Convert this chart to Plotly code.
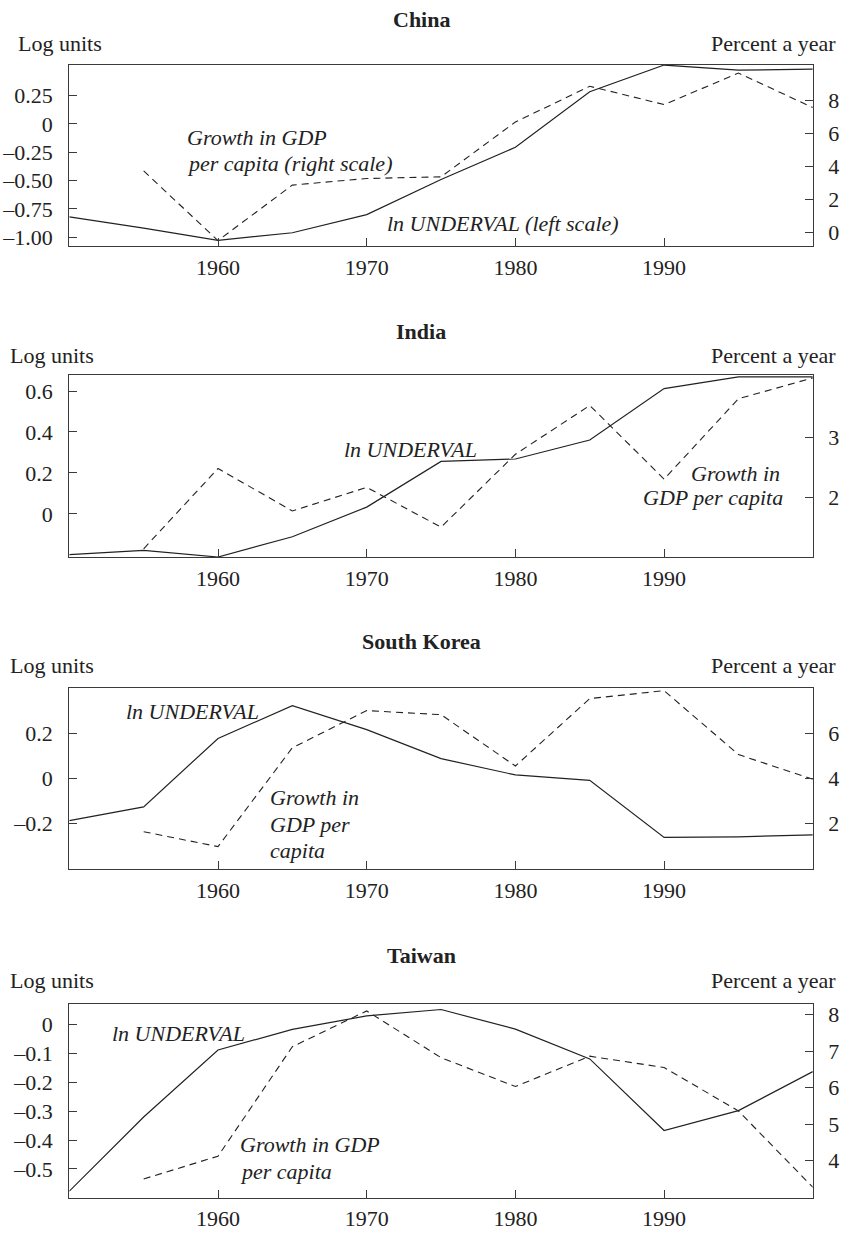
import plotly.graph_objects as go

W, H = 842, 1234
FONT = "Liberation Serif"

years = [1950, 1955, 1960, 1965, 1970, 1975, 1980, 1985, 1990, 1995, 2000]
xtick_vals = [1960, 1970, 1980, 1990]
xtick_text = ["1960", "1970", "1980", "1990"]

# China
china_underval = [-0.82, -0.92, -1.027, -0.96, -0.80, -0.49, -0.206, 0.284, 0.52, 0.475, 0.484]
china_growth = [None, 3.73, -0.5, 2.87, 3.27, 3.37, 6.70, 8.87, 7.76, 9.67, 7.58]
china_left_ticks = [0.25, 0, -0.25, -0.5, -0.75, -1.0]
china_left_text = ["0.25", "0", "\u20130.25", "\u20130.50", "\u20130.75", "\u20131.00"]
china_right_ticks = [0, 2, 4, 6, 8]

# India
india_underval = [-0.199, -0.178, -0.211, -0.112, 0.033, 0.256, 0.268, 0.361, 0.612, 0.669, 0.669]
india_growth = [None, 1.147, 2.478, 1.774, 2.165, 1.505, 2.714, 3.523, 2.302, 3.634, 3.98]
india_left_ticks = [0, 0.2, 0.4, 0.6]
india_left_text = ["0", "0.2", "0.4", "0.6"]
india_right_ticks = [2, 3]

# South Korea
korea_underval = [-0.187, -0.126, 0.176, 0.321, 0.215, 0.087, 0.015, -0.009, -0.261, -0.258, -0.25]
korea_growth = [None, 1.644, 0.985, 5.35, 6.99, 6.81, 4.545, 7.52, 7.87, 5.05, 3.96]
korea_left_ticks = [-0.2, 0, 0.2]
korea_left_text = ["\u20130.2", "0", "0.2"]
korea_right_ticks = [2, 4, 6]

# Taiwan
taiwan_underval = [-0.577, -0.32, -0.088, -0.017, 0.030, 0.052, -0.016, -0.119, -0.367, -0.298, -0.163]
taiwan_growth = [None, 3.498, 4.12, 7.12, 8.10, 6.82, 6.03, 6.86, 6.55, 5.36, 3.27]
taiwan_left_ticks = [0, -0.1, -0.2, -0.3, -0.4, -0.5]
taiwan_left_text = ["0", "\u20130.1", "\u20130.2", "\u20130.3", "\u20130.4", "\u20130.5"]
taiwan_right_ticks = [4, 5, 6, 7, 8]

panels = [
    dict(title="China", under=china_underval, growth=china_growth,
         lt=china_left_ticks, ltt=china_left_text, rt=china_right_ticks,
         lr=[-1.077, 0.52], rr=[-0.83, 10.16], top=64.3, bot=246, title_y=18.3, head_y=42.7, head_x=16,
         notes=[("<i>Growth in GDP</i>", 185, 136.7, "left"),
                ("<i>per capita (right scale)</i>", 185, 163.3, "left"),
                ("<i>ln UNDERVAL (left scale)</i>", 385, 223.3, "left")]),
    dict(title="India", under=india_underval, growth=india_growth,
         lt=india_left_ticks, ltt=india_left_text, rt=india_right_ticks,
         lr=[-0.211, 0.676], rr=[1.01, 4.02], top=376, bot=558.3, title_y=331.7, head_y=356, head_x=8,
         notes=[("<i>ln UNDERVAL</i>", 342, 450, "left"),
                ("<i>Growth in</i>", 782, 474, "right"),
                ("<i>GDP per capita</i>", 785, 499, "right")]),
    dict(title="South Korea", under=korea_underval, growth=korea_growth,
         lt=korea_left_ticks, ltt=korea_left_text, rt=korea_right_ticks,
         lr=[-0.401, 0.401], rr=[-0.01, 8.01], top=689.3, bot=871.7, title_y=643.3, head_y=667.7, head_x=8,
         notes=[("<i>ln UNDERVAL</i>", 124, 713.3, "left"),
                ("<i>Growth in</i>", 268, 800, "left"),
                ("<i>GDP per</i>", 268, 826.7, "left"),
                ("<i>capita</i>", 268, 853.3, "left")]),
    dict(title="Taiwan", under=taiwan_underval, growth=taiwan_growth,
         lt=taiwan_left_ticks, ltt=taiwan_left_text, rt=taiwan_right_ticks,
         lr=[-0.6, 0.0724], rr=[2.98, 8.30], top=1006.7, bot=1201.7, title_y=958.3, head_y=983.3, head_x=8,
         notes=[("<i>ln UNDERVAL</i>", 110, 1036.7, "left"),
                ("<i>Growth in GDP</i>", 238, 1148.3, "left"),
                ("<i>per capita</i>", 238, 1175, "left")]),
]

XL, XR = 69.3, 812.8


def px(x):
    return x / W


def py(y):
    return 1 - y / H


fig = go.Figure()
layout = dict(
    width=W, height=H, autosize=False,
    margin=dict(l=0, r=0, t=0, b=0),
    paper_bgcolor="white", plot_bgcolor="white",
    showlegend=False,
    font=dict(family=FONT, size=22, color="#222"),
    annotations=[],
)

LINEC = "#3a3a3a"
TF = dict(family=FONT, size=22, color="#222")
for i, p in enumerate(panels, start=1):
    xa = "x" if i == 1 else f"x{i}"
    yl_n = 2 * i - 1
    yr_n = 2 * i
    yl = "y" if yl_n == 1 else f"y{yl_n}"
    yr = f"y{yr_n}"
    xkey = "xaxis" if i == 1 else f"xaxis{i}"
    ylkey = "yaxis" if yl_n == 1 else f"yaxis{yl_n}"
    yrkey = f"yaxis{yr_n}"
    ydom = [py(p["bot"]), py(p["top"])]

    layout[xkey] = dict(domain=[px(XL), px(XR)], anchor=yl, range=[1950, 2000],
                        tickvals=xtick_vals, ticktext=xtick_text, ticks="inside", ticklen=8,
                        tickcolor=LINEC, showline=True, linecolor=LINEC, linewidth=1.3,
                        mirror=True, showgrid=False, zeroline=False,
                        ticklabelstandoff=1, tickfont=TF)
    layout[ylkey] = dict(domain=ydom, anchor=xa, range=p["lr"], tickvals=p["lt"], ticktext=p["ltt"],
                         ticks="inside", ticklen=8, tickcolor=LINEC, showline=True, linecolor=LINEC,
                         linewidth=1.3, showgrid=False, zeroline=False, side="left",
                         ticklabelstandoff=11, tickfont=TF)
    layout[yrkey] = dict(domain=ydom, anchor=xa, overlaying=yl, side="right", range=p["rr"],
                         tickvals=p["rt"], ticks="inside", ticklen=8, tickcolor=LINEC,
                         showline=True, linecolor=LINEC, linewidth=1.3, showgrid=False,
                         zeroline=False, ticklabelstandoff=10, tickfont=TF)

    fig.add_trace(go.Scatter(x=years, y=p["under"], mode="lines", xaxis=xa, yaxis=yl,
                             line=dict(color="#222", width=1.2), cliponaxis=True))
    fig.add_trace(go.Scatter(x=years, y=p["growth"], mode="lines", xaxis=xa, yaxis=yr,
                             line=dict(color="#222", width=1.1, dash="7px,5px"), cliponaxis=True))

    layout["annotations"].append(dict(text=f"<b>{p['title']}</b>", xref="paper", yref="paper",
                                      x=px(421), y=py(p["title_y"]), xanchor="center", yanchor="middle",
                                      showarrow=False, font=TF))
    layout["annotations"].append(dict(text="Log units", xref="paper", yref="paper",
                                      x=px(p["head_x"]), y=py(p["head_y"]), xanchor="left", yanchor="middle",
                                      showarrow=False, font=TF))
    layout["annotations"].append(dict(text="Percent a year", xref="paper", yref="paper",
                                      x=px(838), y=py(p["head_y"]), xanchor="right", yanchor="middle",
                                      showarrow=False, font=TF))
    for txt, ax, ay, anc in p["notes"]:
        layout["annotations"].append(dict(text=txt, xref="paper", yref="paper",
                                          x=px(ax), y=py(ay), xanchor=anc, yanchor="middle",
                                          showarrow=False, font=TF))

fig.update_layout(**layout)
fig.write_html(
    "out.html",
    config={"displayModeBar": False},
    post_script="document.body.style.margin='0';document.body.style.overflow='hidden';",
)
